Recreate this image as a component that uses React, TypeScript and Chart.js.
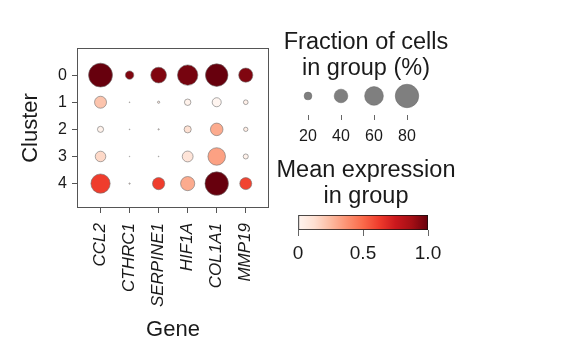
import React, { useEffect, useRef } from 'react';
import { Chart, registerables } from 'chart.js';

Chart.register(...registerables);

// ---- data ----
const genes = ['CCL2', 'CTHRC1', 'SERPINE1', 'HIF1A', 'COL1A1', 'MMP19'];
const clusters = ['0', '1', '2', '3', '4'];

// fraction of cells in group (%), in gene order
const fracCluster0 = [82, 22, 48, 67, 76, 42];
const fracCluster1 = [34, 2, 5, 16, 24, 11];
const fracCluster2 = [15, 2, 3, 18, 36, 10];
const fracCluster3 = [29, 1, 2, 30, 55, 12];
const fracCluster4 = [62, 3, 35, 42, 80, 34];

// mean expression in group (0..1), in gene order
const exprCluster0 = [1.0, 0.95, 0.95, 0.97, 1.0, 0.95];
const exprCluster1 = [0.22, 0.1, 0.05, 0.02, 0.0, 0.03];
const exprCluster2 = [0.02, 0.05, 0.05, 0.12, 0.3, 0.05];
const exprCluster3 = [0.15, 0.0, 0.02, 0.1, 0.33, 0.02];
const exprCluster4 = [0.62, 0.1, 0.62, 0.3, 1.0, 0.6];

const sizeLegendPct = [20, 40, 60, 80];
const colorbarTicks = [0, 0.5, 1.0];
const colorbarTickLabels = ['0', '0.5', '1.0'];

// ---- helpers ----
const FONT = '"Liberation Sans", Arial, Helvetica, sans-serif';
const TEXT = '#1a1a1a';
const REDS = ['#fff5f0', '#fee0d2', '#fcbba1', '#fc9272', '#fb6a4a', '#ef3b2c', '#cb181d', '#a50f15', '#67000d'];

function hexToRgb(h: string) {
  const n = parseInt(h.slice(1), 16);
  return [(n >> 16) & 255, (n >> 8) & 255, n & 255];
}
function reds(v: number) {
  const t = Math.max(0, Math.min(1, v)) * (REDS.length - 1);
  const i = Math.min(Math.floor(t), REDS.length - 2);
  const f = t - i;
  const a = hexToRgb(REDS[i]);
  const b = hexToRgb(REDS[i + 1]);
  const c = a.map((x, k) => Math.round(x + (b[k] - x) * f));
  return `rgb(${c[0]},${c[1]},${c[2]})`;
}
function dotRadius(pct: number) {
  return Math.max(0.3, 0.454 * Math.pow(pct, 0.75) - 0.4);
}

const frameBox = {
  id: 'frameBox',
  beforeDatasetsDraw(chart: any) {
    const { ctx, chartArea } = chart;
    ctx.save();
    ctx.strokeStyle = '#555';
    ctx.lineWidth = 1;
    const l = Math.round(chartArea.left) + 0.5;
    const t = Math.round(chartArea.top) + 0.5;
    const r = Math.round(chartArea.right) - 0.5;
    const b = Math.round(chartArea.bottom) - 0.5;
    ctx.strokeRect(l, t, r - l, b - t);
    ctx.restore();
  },
};

export default function App() {
  const mainRef = useRef<HTMLCanvasElement>(null);
  const sizeRef = useRef<HTMLCanvasElement>(null);
  const barRef = useRef<HTMLCanvasElement>(null);

  useEffect(() => {
    const fracs = [fracCluster0, fracCluster1, fracCluster2, fracCluster3, fracCluster4];
    const exprs = [exprCluster0, exprCluster1, exprCluster2, exprCluster3, exprCluster4];
    const points: any[] = [];
    clusters.forEach((_, ci) =>
      genes.forEach((_, gi) => points.push({ x: gi, y: ci, frac: fracs[ci][gi], expr: exprs[ci][gi] }))
    );

    const mainChart = new Chart(mainRef.current!, {
      type: 'scatter',
      data: {
        datasets: [
          {
            data: points,
            pointRadius: (c: any) => dotRadius(c.raw.frac),
            pointBackgroundColor: (c: any) => reds(c.raw.expr),
            pointBorderColor: 'rgba(110,110,110,0.65)',
            pointBorderWidth: 0.9,
            clip: false,
          } as any,
        ],
      },
      options: {
        responsive: false,
        animation: false,
        events: [],
        layout: { padding: { top: 48, right: 21, left: 0, bottom: 0 } },
        plugins: { legend: { display: false }, tooltip: { enabled: false } },
        scales: {
          x: {
            type: 'linear',
            min: -0.81,
            max: 5.8,
            afterBuildTicks: (s: any) => {
              s.ticks = genes.map((_, i) => ({ value: i }));
            },
            ticks: {
              autoSkip: false,
              minRotation: 90,
              maxRotation: 90,
              padding: 10,
              color: TEXT,
              font: { family: FONT, size: 17, style: 'italic' },
              callback: (_v: any, i: number) => genes[i],
            },
            grid: { drawOnChartArea: false, drawTicks: true, tickLength: 5, tickColor: '#555' },
            border: { display: false },
            title: {
              display: true,
              text: 'Gene',
              color: TEXT,
              font: { family: FONT, size: 22 },
              padding: { top: 0, bottom: 7 },
            },
            afterFit: (s: any) => {
              s.height = 142;
              s.paddingLeft = 0;
              s.paddingRight = 0;
            },
          },
          y: {
            type: 'linear',
            reverse: true,
            min: -1,
            max: 4.9,
            afterBuildTicks: (s: any) => {
              s.ticks = clusters.map((_, i) => ({ value: i }));
            },
            ticks: {
              padding: 5,
              color: TEXT,
              font: { family: FONT, size: 16 },
              callback: (_v: any, i: number) => clusters[i],
            },
            grid: { drawOnChartArea: false, drawTicks: true, tickLength: 5, tickColor: '#555' },
            border: { display: false },
            title: {
              display: true,
              text: 'Cluster',
              color: TEXT,
              font: { family: FONT, size: 22 },
              padding: { top: 18, bottom: 0 },
            },
            afterFit: (s: any) => {
              s.width = 77;
            },
          },
        },
      } as any,
      plugins: [frameBox],
    });

    const hiddenAxis = (w: number, pos: string, type = 'linear') => ({
      type,
      position: pos,
      display: true,
      ticks: { display: false },
      grid: { display: false },
      border: { display: false },
      afterFit: (s: any) => {
        s.width = w;
      },
    });

    const sizeChart = new Chart(sizeRef.current!, {
      type: 'scatter',
      data: {
        datasets: [
          {
            data: sizeLegendPct.map((p, i) => ({ x: i, y: 0, pct: p })),
            pointRadius: (c: any) => dotRadius(c.raw.pct),
            pointBackgroundColor: '#7f7f7f',
            pointBorderColor: 'rgba(100,100,100,0.6)',
            pointBorderWidth: 0.8,
            clip: false,
          } as any,
        ],
      },
      options: {
        responsive: false,
        animation: false,
        events: [],
        layout: { padding: 0 },
        plugins: {
          legend: { display: false },
          tooltip: { enabled: false },
          title: {
            display: true,
            text: ['Fraction of cells', 'in group (%)'],
            color: TEXT,
            font: { family: FONT, size: 23.5, weight: 'normal', lineHeight: 1.085 },
            padding: { top: 30, bottom: 0 },
          },
        },
        scales: {
          x: {
            type: 'linear',
            min: -0.5,
            max: 3.5,
            afterBuildTicks: (s: any) => {
              s.ticks = sizeLegendPct.map((_, i) => ({ value: i }));
            },
            ticks: {
              padding: 7,
              color: TEXT,
              font: { family: FONT, size: 16 },
              callback: (_v: any, i: number) => String(sizeLegendPct[i]),
            },
            grid: { drawOnChartArea: false, drawTicks: true, tickLength: 5, tickColor: '#666' },
            border: { display: false },
            afterFit: (s: any) => {
              s.height = 35;
              s.paddingLeft = 0;
              s.paddingRight = 0;
            },
          },
          y: { ...hiddenAxis(25.5, 'left'), min: -1.27, max: 1 },
          y2: hiddenAxis(42.5, 'right'),
        },
      } as any,
    });

    const barChart = new Chart(barRef.current!, {
      type: 'bar',
      data: {
        labels: ['expr'],
        datasets: [
          {
            data: [[colorbarTicks[0], colorbarTicks[colorbarTicks.length - 1]]],
            backgroundColor: (c: any) => {
              const { ctx, chartArea } = c.chart;
              if (!chartArea) return REDS[4];
              const g = ctx.createLinearGradient(chartArea.left, 0, chartArea.right, 0);
              REDS.forEach((col, i) => g.addColorStop(i / (REDS.length - 1), col));
              return g;
            },
            borderColor: '#111',
            borderWidth: 1,
            borderSkipped: false,
            barPercentage: 1,
            categoryPercentage: 1,
          } as any,
        ],
      },
      options: {
        indexAxis: 'y',
        responsive: false,
        animation: false,
        events: [],
        layout: { padding: 0 },
        plugins: {
          legend: { display: false },
          tooltip: { enabled: false },
          title: {
            display: true,
            text: ['Mean expression', 'in group'],
            color: TEXT,
            font: { family: FONT, size: 23.5, weight: 'normal', lineHeight: 1.106 },
            padding: { top: 13, bottom: 5 },
          },
        },
        scales: {
          x: {
            type: 'linear',
            min: 0,
            max: 1,
            afterBuildTicks: (s: any) => {
              s.ticks = colorbarTicks.map((v) => ({ value: v }));
            },
            ticks: {
              padding: 6,
              color: TEXT,
              font: { family: FONT, size: 19 },
              callback: (_v: any, i: number) => colorbarTickLabels[i],
            },
            grid: { drawOnChartArea: false, drawTicks: true, tickLength: 6, tickColor: '#666' },
            border: { display: false },
            afterFit: (s: any) => {
              s.height = 45;
              s.paddingLeft = 0;
              s.paddingRight = 0;
            },
          },
          y: hiddenAxis(32, 'left', 'category'),
          y2: hiddenAxis(38, 'right'),
        },
      } as any,
    });

    return () => {
      mainChart.destroy();
      sizeChart.destroy();
      barChart.destroy();
    };
  }, []);

  return (
    <div style={{ position: 'fixed', left: 0, top: 0, width: 565, height: 362, background: '#fff' }}>
      <canvas ref={mainRef} width={290} height={350} style={{ position: 'absolute', left: 0, top: 0 }} />
      <canvas ref={sizeRef} width={200} height={150} style={{ position: 'absolute', left: 266, top: 0 }} />
      <canvas ref={barRef} width={200} height={130} style={{ position: 'absolute', left: 266, top: 145 }} />
    </div>
  );
}
